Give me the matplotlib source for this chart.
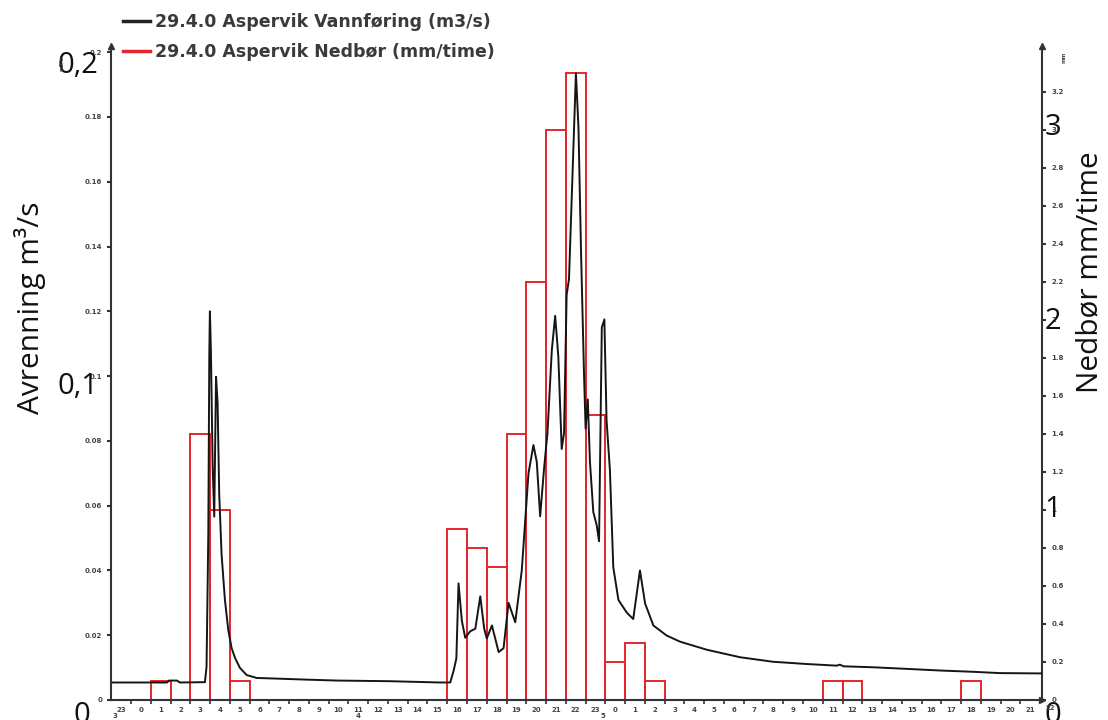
import matplotlib
matplotlib.use('Agg')
import matplotlib.pyplot as plt
import numpy as np
from matplotlib.lines import Line2D
from matplotlib.transforms import offset_copy

# Discharge (m3/s), time in hours from midnight of day 4
flow_t = [-1.53, 1.32, 1.42, 1.82, 1.97, 3.24, 3.32, 3.41, 3.46, 3.49, 3.54, 3.63, 3.71,
          3.80, 3.88, 3.96, 4.08, 4.25, 4.42, 4.59, 4.76, 5.01, 5.35, 5.86, 6.88, 8.30,
          9.92, 12.60, 15.13, 15.65, 15.82, 15.96, 16.07, 16.24, 16.41, 16.66, 16.92,
          17.17, 17.37, 17.50, 17.76, 18.10, 18.35, 18.60, 18.94, 19.27, 19.61, 19.86,
          20.03, 20.20, 20.40, 20.57, 20.79, 20.96, 21.12, 21.29, 21.41, 21.54, 21.66,
          21.88, 22.01, 22.14, 22.27, 22.42, 22.50, 22.61, 22.72, 22.89, 23.06, 23.18,
          23.32, 23.45, 23.56, 23.73, 23.90, 24.16, 24.58, 24.91, 25.25, 25.51, 25.93,
          26.60, 27.28, 28.64, 30.31, 31.98, 33.70, 35.20, 35.37, 35.55, 37.04, 38.77,
          40.44, 42.11, 43.47, 45.58]
flow_v = [0.0054, 0.0054, 0.0060, 0.0060, 0.0054, 0.0055, 0.0103, 0.0515, 0.107, 0.120,
          0.108, 0.072, 0.0566, 0.0998, 0.0916, 0.0638, 0.045, 0.0309, 0.0216, 0.016,
          0.013, 0.0099, 0.0077, 0.0068, 0.0066, 0.0063, 0.0060, 0.0058, 0.0054, 0.0054,
          0.009, 0.0128, 0.036, 0.0244, 0.0192, 0.0212, 0.022, 0.032, 0.022, 0.019, 0.023,
          0.0148, 0.016, 0.030, 0.024, 0.040, 0.070, 0.0787, 0.0735, 0.0567, 0.0716,
          0.0824, 0.108, 0.1186, 0.106, 0.0775, 0.0825, 0.125, 0.130, 0.170, 0.1935,
          0.1766, 0.138, 0.1006, 0.0838, 0.0928, 0.0735, 0.058, 0.054, 0.049, 0.115,
          0.1175, 0.0864, 0.071, 0.041, 0.0309, 0.027, 0.025, 0.040, 0.0298, 0.023,
          0.0199, 0.0180, 0.0155, 0.0132, 0.0118, 0.0111, 0.0106, 0.0109, 0.0104, 0.0101,
          0.0096, 0.0091, 0.0087, 0.0083, 0.0082]

# Hourly precipitation (mm/time)
precip_hours = [1, 3, 4, 5, 16, 17, 18, 19, 20, 21, 22, 23, 24, 25, 26, 35, 36, 42]
precip_mm = [0.1, 1.4, 1.0, 0.1, 0.9, 0.8, 0.7, 1.4, 2.2, 3.0, 3.3, 1.5, 0.2, 0.3,
             0.1, 0.1, 0.1, 0.1]

left_ticks = [0, 0.02, 0.04, 0.06, 0.08, 0.1, 0.12, 0.14, 0.16, 0.18, 0.2]
left_tick_labels = ['0', '0.02', '0.04', '0.06', '0.08', '0.1', '0.12', '0.14',
                    '0.16', '0.18', '0.2']
right_ticks = [0, 0.2, 0.4, 0.6, 0.8, 1.0, 1.2, 1.4, 1.6, 1.8, 2.0, 2.2, 2.4, 2.6,
               2.8, 3.0, 3.2]
right_tick_labels = ['0', '0.2', '0.4', '0.6', '0.8', '1', '1.2', '1.4', '1.6', '1.8',
                     '2', '2.2', '2.4', '2.6', '2.8', '3', '3.2']
hour_ticks = list(range(-1, 46))
hour_labels = [str(h % 24) for h in hour_ticks]
day_labels = ['3', '4', '5']
day_pos = [-1.3, 11.0, 23.4]

big_left = ['0,2', '0,1', '0']
big_left_vals = [0.2, 0.1, 0]
big_right = ['3', '2', '1', '0']
big_right_vals = [3, 2, 1, 0]

red = '#e3262b'
dark = '#333333'
big_font = ['Open Sans', 'DejaVu Sans']

fig = plt.figure(figsize=(11.08, 7.2), dpi=100)
ax = fig.add_axes([0.0999, 0.0278, 0.8403, 0.9083])
ax2 = ax.twinx()

ax2.bar(precip_hours, precip_mm, width=1.0, fill=False, edgecolor=red, linewidth=1.4)
ax.plot(flow_t, flow_v, color='#151515', lw=1.4)
ax.set_zorder(ax2.get_zorder() + 1)
ax.patch.set_visible(False)

ax.set_xlim(-1.53, 45.58)
ax.set_ylim(0, 0.2019)
ax2.set_ylim(0, 3.442)

tick_font = dict(fontsize=5, fontweight='bold', color='#444444')
ax.set_yticks(left_ticks)
ax.set_yticklabels(left_tick_labels, **tick_font)
ax2.set_yticks(right_ticks)
ax2.set_yticklabels(right_tick_labels, **tick_font)
ax.tick_params(axis='y', length=3, width=1.5, color=dark, pad=3)
ax2.tick_params(axis='y', length=3, width=1.5, color=dark, pad=4)

ax.set_xticks(hour_ticks)
ax.set_xticklabels(hour_labels, **tick_font)
ax.set_xticks(np.arange(-0.5, 45.5, 1), minor=True)
ax.tick_params(axis='x', which='major', length=0, pad=5)
ax.tick_params(axis='x', which='minor', length=3, width=1.2, color=dark)

for a in (ax, ax2):
    a.spines['top'].set_visible(False)
ax.spines['right'].set_visible(False)
ax2.spines['left'].set_visible(False)
ax2.spines['bottom'].set_visible(False)
for s in (ax.spines['left'], ax.spines['bottom'], ax2.spines['right']):
    s.set_linewidth(1.5)
    s.set_color(dark)

# axis arrow heads
ax.plot([0, 1], [1, 1], linestyle='none', marker='^', ms=4, color=dark,
        transform=ax.transAxes, clip_on=False)
ax.plot([1], [0], linestyle='none', marker='>', ms=4, color=dark,
        transform=ax.transAxes, clip_on=False)

# last hour label past the right axis and the day labels
ax.text(46, 0, '22', transform=offset_copy(ax.get_xaxis_transform(), fig=fig, y=-5, units='dots'),
        ha='center', va='top', clip_on=False, **tick_font)
for p, d in zip(day_pos, day_labels):
    tr = offset_copy(ax.get_xaxis_transform(), fig=fig, x=0, y=-13, units='dots')
    ax.text(p, 0, d, transform=tr, ha='center', va='top', clip_on=False, **tick_font)

# large overlay axis numbers
left_dx = [-12, -12, -20]
left_dy = [-13, -10, -16]
for s, v, dx, dy in zip(big_left, big_left_vals, left_dx, left_dy):
    tr = offset_copy(ax.get_yaxis_transform(), fig=fig, x=dx, y=dy, units='dots')
    ax.text(0, v, s, transform=tr, ha='right', va='center', fontsize=21,
            family=big_font, color='#111111', clip_on=False)
right_dy = [2, -2, 0, -16]
for s, v, dy in zip(big_right, big_right_vals, right_dy):
    tr = offset_copy(ax2.get_yaxis_transform(), fig=fig, x=3, y=dy, units='dots')
    ax2.text(1, v, s, transform=tr, ha='left', va='center', fontsize=21,
             family=big_font, color='#111111', clip_on=False)

# small unit labels of the original axes
fig.text(62 / 1108, 1 - 64 / 720, 'm3/s', rotation=90, ha='center', va='center',
         fontsize=4, fontweight='bold', color='#444444')
fig.text(1064 / 1108, 1 - 57 / 720, 'mm', rotation=90, ha='center', va='center',
         fontsize=4, fontweight='bold', color='#444444')

fig.text(30 / 1108, 1 - 308 / 720, 'Avrenning m³/s', rotation=90, ha='center',
         va='center', fontsize=21.5, family=big_font, color='#111111')
fig.text(1090 / 1108, 1 - 272 / 720, 'Nedbør mm/time', rotation=90, ha='center',
         va='center', fontsize=21.5, family=big_font, color='#111111')

handles = [Line2D([], [], color='#222222', lw=2.5), Line2D([], [], color=red, lw=2.5)]
fig.legend(handles, ['29.4.0 Aspervik Vannføring (m3/s)', '29.4.0 Aspervik Nedbør (mm/time)'],
           loc='upper left', bbox_to_anchor=(0.1043, 0.992), borderaxespad=0,
           frameon=False, prop={'weight': 'bold', 'size': 12.5}, handlelength=1.6,
           handletextpad=0.25, labelcolor='#3a3a3a', labelspacing=0.7)

fig.savefig('out.png', dpi=100)
